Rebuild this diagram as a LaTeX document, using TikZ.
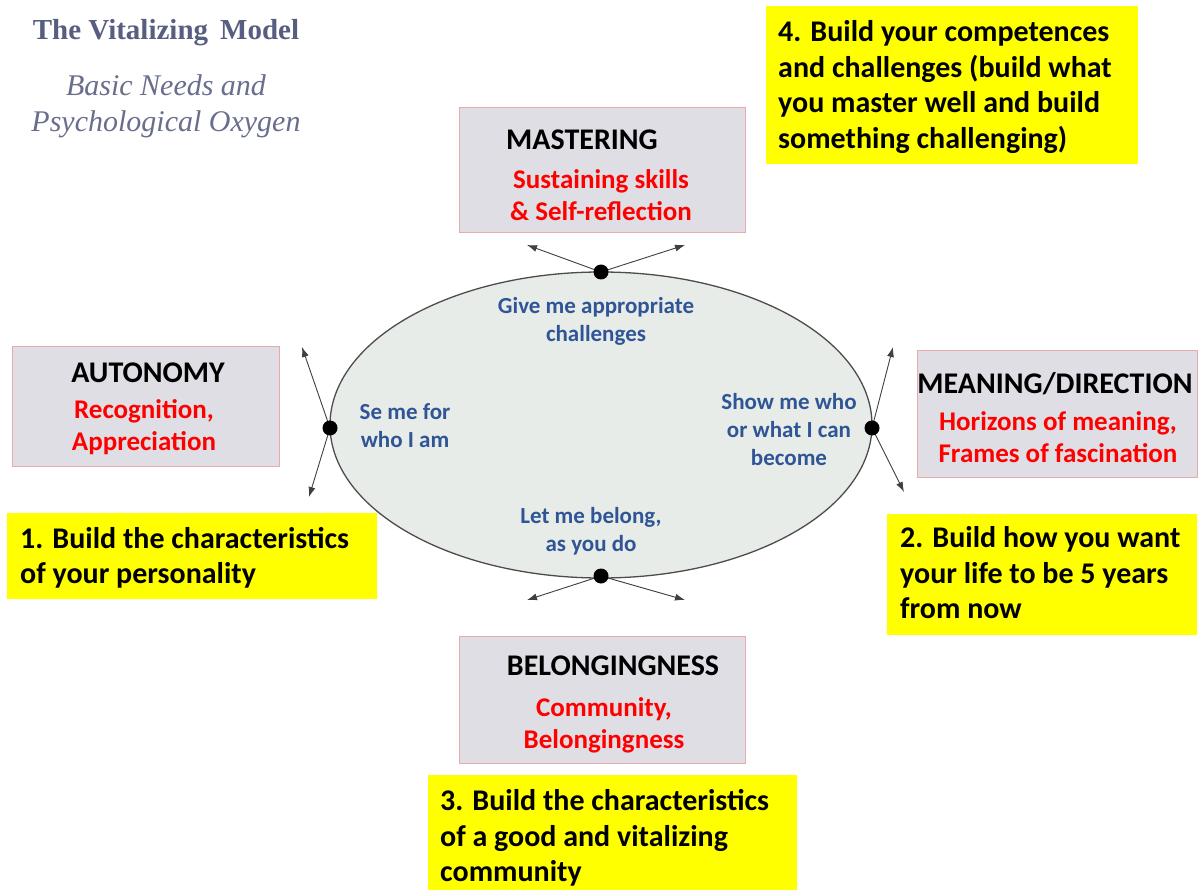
\documentclass[tikz,border=0pt]{standalone}
\usepackage{fontspec}
\setmainfont{Carlito}
\newfontfamily\titleserif{Liberation Serif}
\usetikzlibrary{arrows.meta}
\definecolor{boxgray}{RGB}{222,222,228}
\definecolor{boxedge}{RGB}{235,170,170}
\definecolor{ellfill}{RGB}{232,236,232}
\definecolor{bluetxt}{RGB}{47,85,151}
\definecolor{titlecol}{RGB}{88,94,128}
\definecolor{subcol}{RGB}{104,110,140}
\definecolor{redtxt}{RGB}{255,0,0}
\definecolor{yel}{RGB}{255,255,0}
\begin{document}
\begin{tikzpicture}[x=1pt,y=-1pt,
 needbox/.style={rectangle, fill=boxgray, draw=boxedge, line width=0.8pt, inner sep=0},
 buildbox/.style={rectangle, fill=yel, draw=none, inner sep=0},
 head/.style={font=\fontsize{30}{36}\selectfont\bfseries, inner sep=0, anchor=base},
 redt/.style={font=\fontsize{27}{32}\selectfont\bfseries, text=redtxt, align=center, inner sep=0},
 buildt/.style={font=\fontsize{30}{35.5}\selectfont\bfseries, align=left, anchor=west, inner sep=0},
 bluet/.style={font=\fontsize{23}{28}\selectfont\bfseries, text=bluetxt, align=center, inner sep=0},
 dot/.style={circle, fill=black, inner sep=0, minimum size=15pt},
 arr/.style={draw=black!75, line width=0.9pt, -{Latex[length=10pt,width=7pt]}}
]
\path[use as bounding box, fill=white] (0,0) rectangle (1198,890);

% title
\node[font=\titleserif\bfseries\fontsize{29}{34}\selectfont, text=titlecol, inner sep=0] (title) at (166,33) {The Vitalizing\, Model};
\node[font=\titleserif\itshape\fontsize{30}{36}\selectfont, text=subcol, align=center, inner sep=0] (subtitle) at (166,106) {Basic Needs and\\Psychological Oxygen};

% need boxes
\node[needbox, minimum width=286pt, minimum height=125pt] (mastbox) at (602,169.5) {};
\node[needbox, minimum width=267pt, minimum height=120pt] (autbox) at (145.5,406) {};
\node[needbox, minimum width=280pt, minimum height=127pt] (meanbox) at (1057,413.5) {};
\node[needbox, minimum width=286pt, minimum height=127pt] (belbox) at (602,699.5) {};

\node[head] (masthead) at (582,150) {MASTERING};
\node[redt] (mastred) at (601,195) {Sustaining skills\\\& Self-reflection};
\node[head] (authead) at (148,382) {AUTONOMY};
\node[redt] (autred) at (144,427.5) {Recognition,\\Appreciation};
\node[head] (meanhead) at (1055,393) {MEANING/DIRECTION};
\node[redt] (meanred) at (1058,437.5) {Horizons of meaning,\\Frames of fascination};
\node[head] (belhead) at (613,675) {BELONGINGNESS};
\node[redt] (belred) at (604,725) {Community,\\Belongingness};

% build boxes
\node[buildbox, minimum width=372pt, minimum height=158pt] (b4) at (952,85) {};
\node[buildbox, minimum width=370pt, minimum height=86pt] (b1) at (192,556) {};
\node[buildbox, minimum width=310pt, minimum height=121pt] (b2) at (1042,574.5) {};
\node[buildbox, minimum width=369pt, minimum height=115pt] (b3) at (612.5,832.5) {};

\node[buildt] (t4) at (778,87) {4. Build your competences\\and challenges (build what\\you master well and build\\something challenging)};
\node[buildt] (t1) at (20,558) {1. Build the characteristics\\of your personality};
\node[buildt] (t2) at (900,573) {2. Build how you want\\your life to be 5 years\\from now};
\node[buildt] (t3) at (440,838) {3. Build the characteristics\\of a good and vitalizing\\community};

% ellipse
\draw[fill=ellfill, draw=black!70, line width=1.3pt] (601,425) ellipse [x radius=271pt, y radius=153pt];
\node[bluet] (etop) at (596,321) {Give me appropriate\\challenges};
\node[bluet] (eleft) at (405,426) {Se me for\\who I am};
\node[bluet] (eright) at (789,430) {Show me who\\or what I can\\become};
\node[bluet] (ebot) at (591,531) {Let me belong,\\as you do};

% arrows
\coordinate (tl) at (527,245);
\coordinate (tr) at (685,245);
\coordinate (lu) at (302,347);
\coordinate (ld) at (309,497);
\coordinate (ru) at (893,347);
\coordinate (rd) at (904,492);
\coordinate (bl) at (527,600);
\coordinate (br) at (685,600);
\coordinate (ptop) at (601,272);
\coordinate (pleft) at (330,428);
\coordinate (pright) at (872,428);
\coordinate (pbot) at (601,576);
\draw[arr] (ptop) -- (tl);
\draw[arr] (ptop) -- (tr);
\draw[arr] (pleft) -- (lu);
\draw[arr] (pleft) -- (ld);
\draw[arr] (pright) -- (ru);
\draw[arr] (pright) -- (rd);
\draw[arr] (pbot) -- (bl);
\draw[arr] (pbot) -- (br);
\node[dot] (dtop) at (ptop) {};
\node[dot] (dleft) at (pleft) {};
\node[dot] (dright) at (pright) {};
\node[dot] (dbot) at (pbot) {};
\end{tikzpicture}
\end{document}
